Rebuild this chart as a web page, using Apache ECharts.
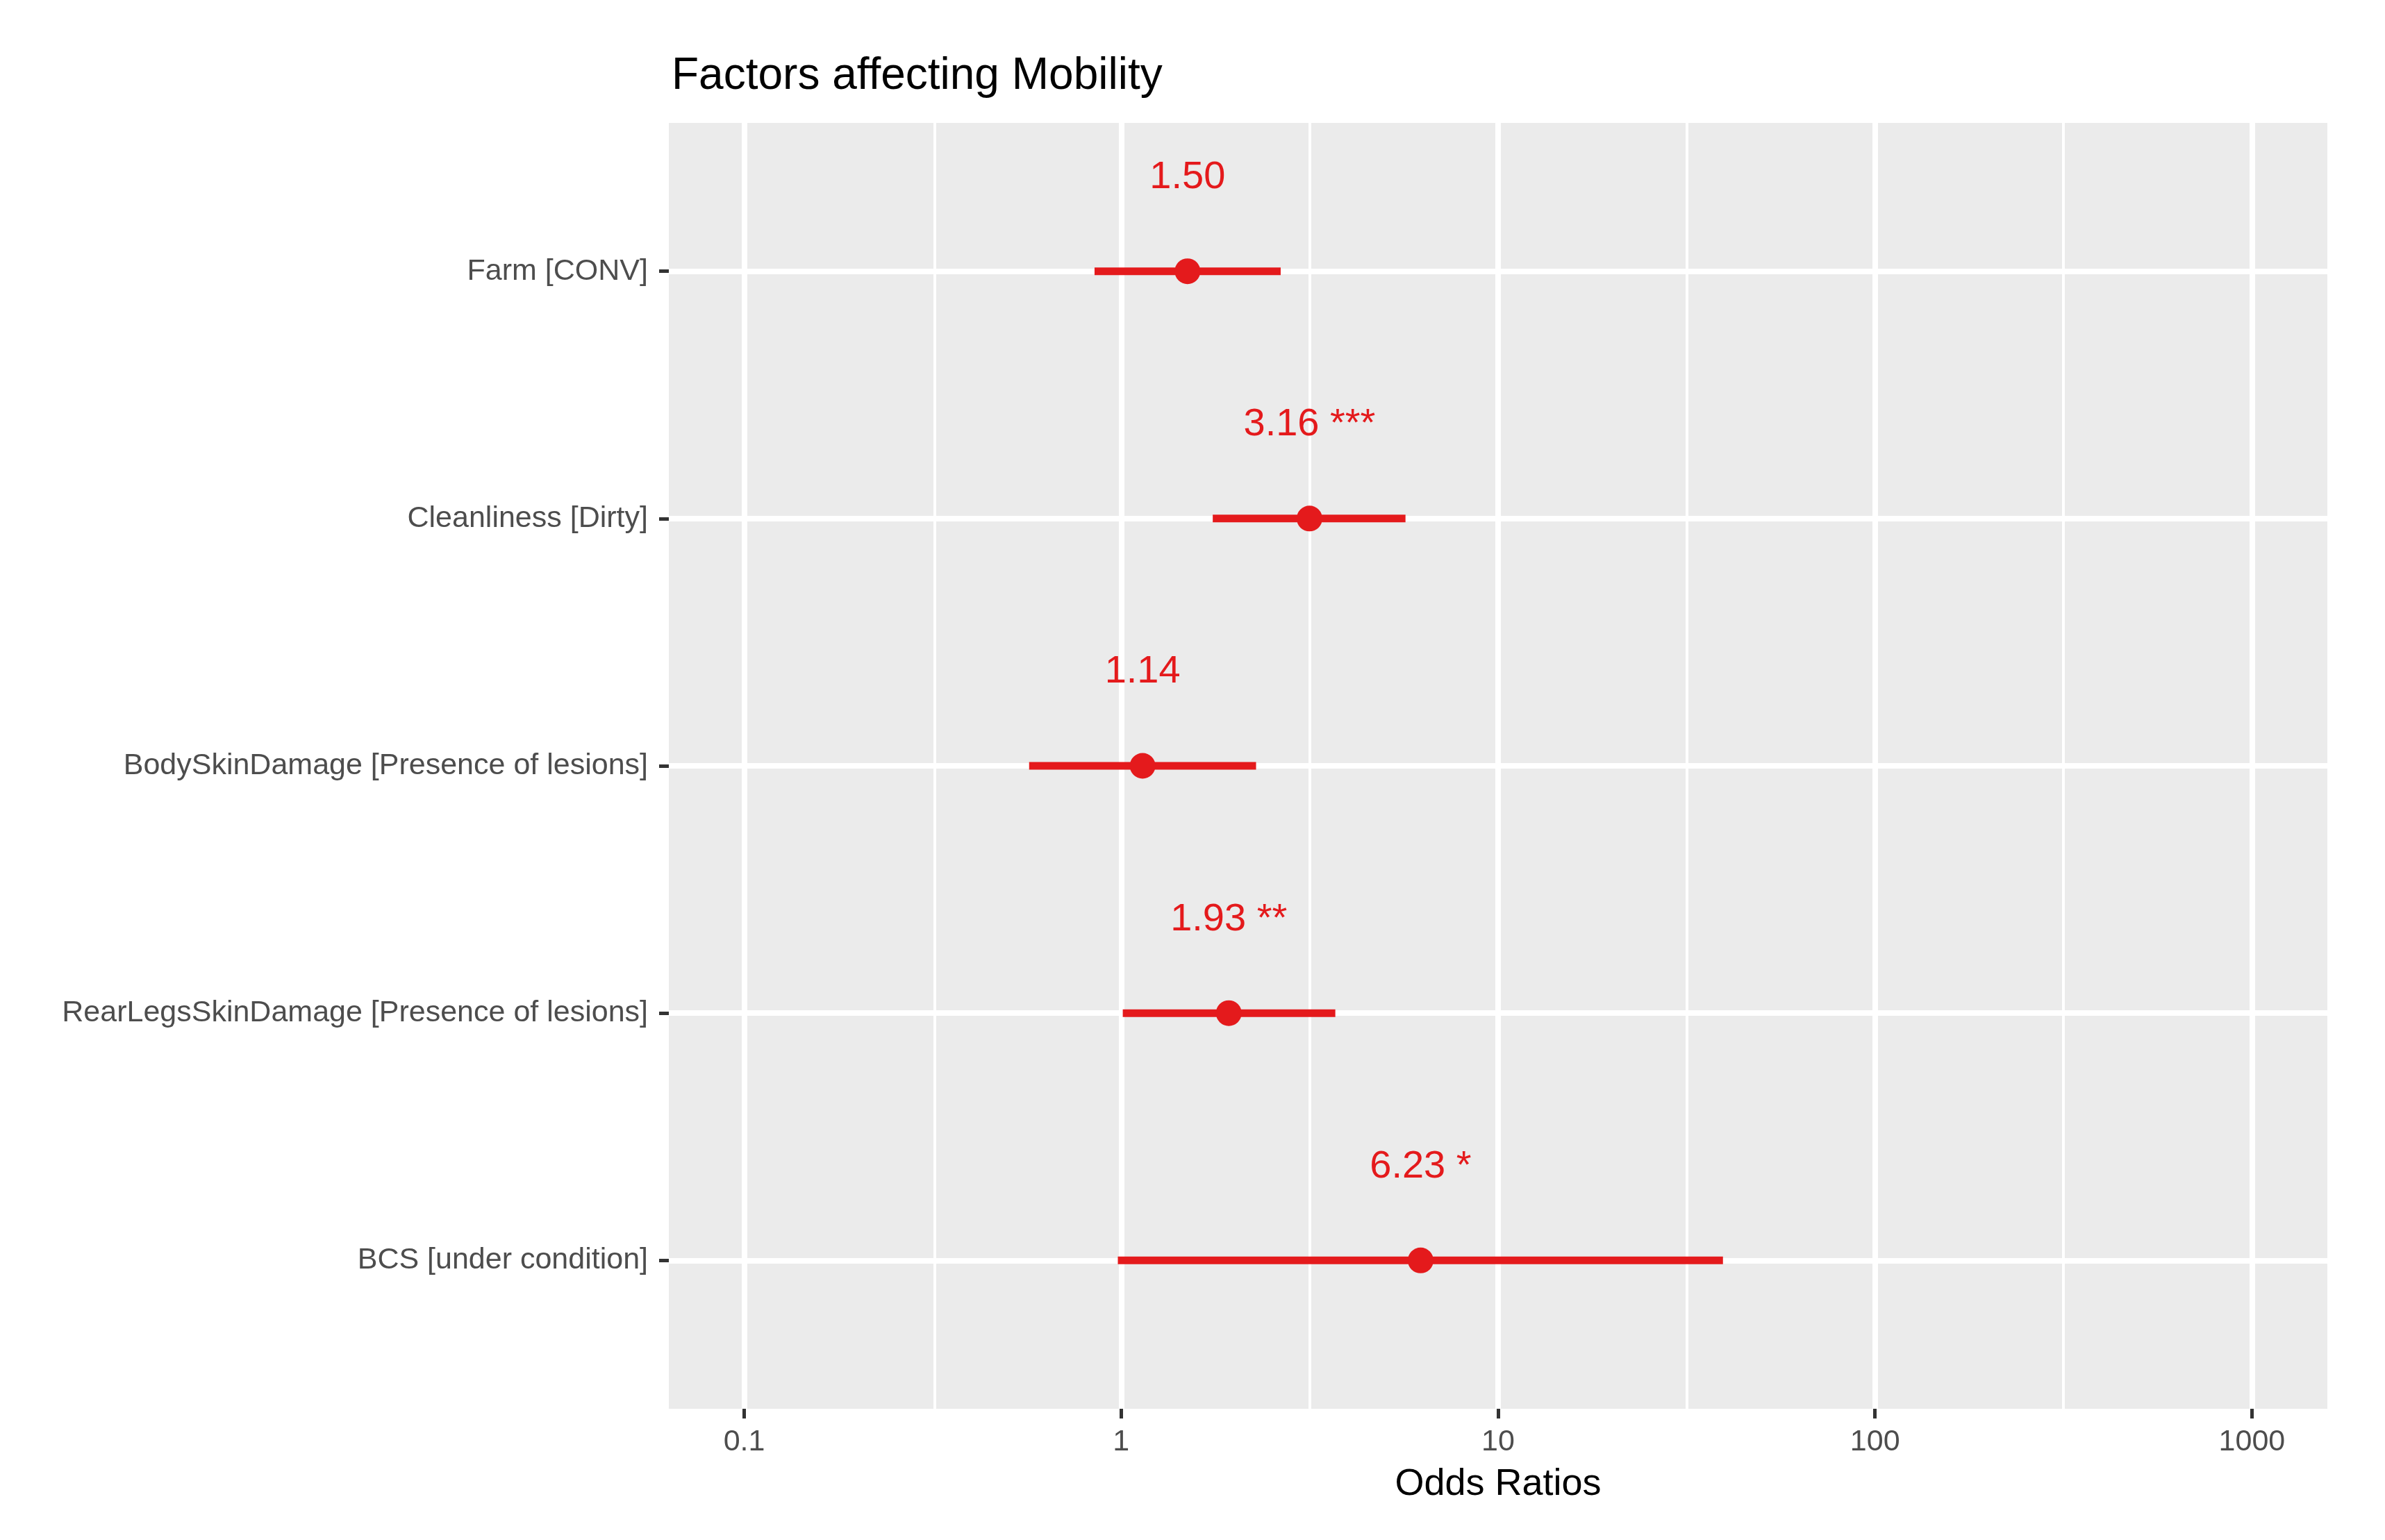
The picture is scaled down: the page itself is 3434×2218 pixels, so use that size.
<!DOCTYPE html>
<html>
<head>
<meta charset="utf-8">
<script src="https://cdn.jsdelivr.net/npm/echarts@6/dist/echarts.min.js"></script>
<style>
html,body{margin:0;padding:0;background:#fff;}
#chart{width:3434px;height:2218px;}
</style>
</head>
<body>
<div id="chart"></div>
<script>
// ---- data ----
const categories = [
  "Farm [CONV]",
  "Cleanliness [Dirty]",
  "BodySkinDamage [Presence of lesions]",
  "RearLegsSkinDamage [Presence of lesions]",
  "BCS [under condition]"
];
const oddsRatios = [1.50, 3.16, 1.14, 1.93, 6.23];
const ciLow  = [0.85, 1.75, 0.57, 1.01, 0.98];
const ciHigh = [2.65, 5.68, 2.28, 3.70, 39.5];
const pointLabels = ["1.50", "3.16 ***", "1.14", "1.93 **", "6.23 *"];
const xTicks = [0.1, 1, 10, 100, 1000];
const xMinorBreaks = [0.3162, 3.162, 31.62, 316.2];
const yTicks = [1, 2, 3, 4, 5];

const RED = '#E41A1C';
const FONT = '"Liberation Sans", Arial, sans-serif';

const chart = echarts.init(document.getElementById('chart'), null, {renderer: 'canvas'});

const pointData = oddsRatios.map((v, i) => [v, i + 1]);
const barData = ciLow.map((lo, i) => [lo, ciHigh[i], i + 1]);

const option = {
  backgroundColor: '#ffffff',
  animation: false,
  textStyle: {fontFamily: FONT},
  title: {
    text: 'Factors affecting Mobility',
    left: 962,
    top: 73,
    textStyle: {fontFamily: FONT, fontSize: 64, fontWeight: 'normal', color: '#000000'}
  },
  grid: {
    left: 963,
    right: 83,
    top: 177,
    bottom: 189,
    show: true,
    backgroundColor: '#EBEBEB',
    borderWidth: 0,
    containLabel: false
  },
  xAxis: {
    type: 'log',
    logBase: 10,
    min: 0.0631,
    max: 1585,
    name: 'Odds Ratios',
    nameLocation: 'middle',
    nameGap: 82,
    nameTextStyle: {fontFamily: FONT, fontSize: 54, color: '#000000'},
    axisLine: {show: false},
    axisTick: {show: true, length: 14, customValues: xTicks, lineStyle: {color: '#333333', width: 5}},
    axisLabel: {
      show: true, margin: 27, customValues: xTicks,
      fontFamily: FONT, fontSize: 43, color: '#4D4D4D',
      formatter: v => String(v)
    },
    splitLine: {show: true, customValues: xTicks, lineStyle: {color: '#FFFFFF', width: 8}},
    minorTick: {show: false},
    minorSplitLine: {show: false}
  },
  yAxis: {
    type: 'value',
    min: 0.4,
    max: 5.6,
    inverse: true,
    axisLine: {show: false},
    axisTick: {show: true, length: 14, customValues: yTicks, lineStyle: {color: '#333333', width: 5}},
    axisLabel: {
      show: true, margin: 30, customValues: yTicks,
      fontFamily: FONT, fontSize: 43, color: '#4D4D4D',
      formatter: v => categories[Math.round(v) - 1] || ''
    },
    splitLine: {show: true, customValues: yTicks, lineStyle: {color: '#FFFFFF', width: 8}}
  },
  series: [
    {
      type: 'scatter',
      z: 1,
      silent: true,
      symbolSize: 0,
      data: [],
      markLine: {
        z: 1,
        silent: true,
        symbol: ['none', 'none'],
        label: {show: false},
        lineStyle: {color: '#FFFFFF', width: 4, type: 'solid', opacity: 1},
        emphasis: {disabled: true},
        data: xMinorBreaks.map(v => ({xAxis: v}))
      }
    },
    {
      type: 'custom',
      z: 3,
      silent: true,
      data: barData,
      encode: {x: [0, 1], y: 2},
      renderItem: function (params, api) {
        const p1 = api.coord([api.value(0), api.value(2)]);
        const p2 = api.coord([api.value(1), api.value(2)]);
        return {
          type: 'line',
          shape: {x1: p1[0], y1: p1[1], x2: p2[0], y2: p2[1]},
          style: {stroke: RED, lineWidth: 11}
        };
      }
    },
    {
      type: 'scatter',
      z: 4,
      silent: true,
      symbol: 'circle',
      symbolSize: 37,
      itemStyle: {color: RED, opacity: 1},
      data: pointData,
      label: {
        show: true,
        position: 'inside',
        offset: [0, -135],
        fontFamily: FONT,
        fontSize: 56,
        color: RED,
        formatter: p => pointLabels[p.dataIndex]
      }
    }
  ]
};
chart.setOption(option);
</script>
</body>
</html>
